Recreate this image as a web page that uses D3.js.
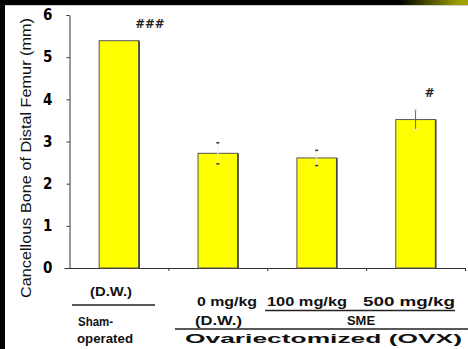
<!DOCTYPE html>
<html>
<head>
<meta charset="utf-8">
<script src="https://cdn.jsdelivr.net/npm/d3@7"></script>
<style>
  html, body { margin: 0; padding: 0; background: #fff; }
  svg { display: block; }
</style>
</head>
<body>
<svg id="chart" width="468" height="349"></svg>
<script>
// data
const groups = ["Sham (D.W.)", "OVX 0 mg/kg", "OVX SME 100", "OVX SME 500"];
const means = [5.39, 2.72, 2.61, 3.52];
const errors = [0, 0.25, 0.18, 0.235];
const marks = ["###", "", "", "#"];
const yTicks = [0, 1, 2, 3, 4, 5, 6];
const yTitle = "Cancellous Bone of Distal Femur (mm)";

// layout
const markShift = [31, 0, 0, 14];
const W = 468, H = 349;
const tickFont = "'Liberation Sans Narrow', 'DejaVu Sans Condensed', 'Liberation Sans', sans-serif";
const lblFont = "'Liberation Sans', Arial, sans-serif";

const svg = d3.select("#chart");

// frame: black strips on top and left, olive fade at top right
const defs = svg.append("defs");
const grad = defs.append("linearGradient").attr("id", "fade")
  .attr("x1", "0%").attr("x2", "100%");
grad.append("stop").attr("offset", "0%").attr("stop-color", "#000");
grad.append("stop").attr("offset", "85%").attr("stop-color", "#9c9c00");
grad.append("stop").attr("offset", "100%").attr("stop-color", "#a3a300");

svg.append("rect").attr("x", 0).attr("y", 0).attr("width", W).attr("height", 5).attr("fill", "#000");
svg.append("rect").attr("x", 400).attr("y", 0).attr("width", 68).attr("height", 5).attr("fill", "url(#fade)");
svg.append("rect").attr("x", 5).attr("y", 5).attr("width", W - 5).attr("height", 1).attr("fill", "#d0d0d0");
svg.append("rect").attr("x", 0).attr("y", 0).attr("width", 5).attr("height", H).attr("fill", "#000");

const x = d3.scaleBand()
  .domain(groups)
  .range([69.5, 465])
  .paddingInner(0.6)
  .paddingOuter(0.3);

const y = d3.scaleLinear()
  .domain([0, 6])
  .range([268, 15]);

// y axis
const yAxis = svg.append("g")
  .attr("transform", `translate(${x.range()[0]},0)`)
  .call(d3.axisLeft(y).tickValues(yTicks).tickFormat(d3.format("d"))
    .tickSize(3).tickSizeOuter(0).tickPadding(14));
yAxis.select(".domain").attr("stroke", "#333");
yAxis.selectAll(".tick line").attr("stroke", "#333");
yAxis.selectAll(".tick text")
  .attr("fill", "#000")
  .style("font-family", tickFont)
  .style("font-weight", "bold")
  .style("font-size", "15px");

// x axis: ticks on group boundaries
const xb = d3.scaleLinear().domain([0, groups.length]).range(x.range());
const xAxis = svg.append("g")
  .attr("transform", `translate(0,${y(0)})`)
  .call(d3.axisBottom(xb).tickValues(d3.range(1, groups.length + 1))
    .tickFormat("").tickSize(3).tickSizeOuter(0));
xAxis.select(".domain").attr("stroke", "#333").attr("d", `M${x.range()[0] - 5},0.5H${x.range()[1] + 1}`);
xAxis.selectAll(".tick line").attr("stroke", "#333");

// bars
svg.append("g")
  .selectAll("rect")
  .data(groups)
  .join("rect")
  .attr("x", d => x(d))
  .attr("y", (d, i) => y(means[i]))
  .attr("width", x.bandwidth())
  .attr("height", (d, i) => y(0) - y(means[i]))
  .attr("fill", "#ffff00")
  .attr("stroke", "#555")
  .attr("stroke-width", 1);

// darker right edge of each bar
svg.append("g")
  .selectAll("line")
  .data(groups)
  .join("line")
  .attr("x1", d => x(d) + x.bandwidth() + 0.5)
  .attr("x2", d => x(d) + x.bandwidth() + 0.5)
  .attr("y1", (d, i) => y(means[i]))
  .attr("y2", y(0))
  .attr("stroke", "#444")
  .attr("stroke-width", 1.5);

// error bars (only the lower stub shows inside the short bars)
const eb = svg.append("g");
groups.forEach((g, i) => {
  if (!errors[i]) return;
  const cx = x(g) + x.bandwidth() / 2;
  const lo = y(means[i] - errors[i]), hi = y(means[i] + errors[i]);
  eb.append("line")
    .attr("x1", cx).attr("x2", cx).attr("y1", hi).attr("y2", lo)
    .attr("stroke", i === 3 ? "#666" : "#f4f4d0").attr("stroke-width", 1);
  [lo, hi].forEach(v => {
    eb.append("line")
      .attr("x1", cx - 1.5).attr("x2", cx + 1.5).attr("y1", v).attr("y2", v)
      .attr("stroke", i === 3 ? "#ddd" : "#333").attr("stroke-width", 1.5);
  });
});

// significance marks
svg.append("g")
  .selectAll("text")
  .data(groups)
  .join("text")
  .attr("x", (d, i) => x(d) + x.bandwidth() / 2 + markShift[i])
  .attr("y", (d, i) => y(means[i] + errors[i]) - 13)
  .attr("text-anchor", "middle")
  .style("font-family", tickFont)
  .style("font-weight", "bold")
  .style("font-size", "13px")
  .attr("fill", "#222")
  .text((d, i) => marks[i]);

// y title
svg.append("text")
  .attr("transform", "translate(31,158) rotate(-90)")
  .attr("text-anchor", "middle")
  .attr("textLength", 280)
  .attr("lengthAdjust", "spacingAndGlyphs")
  .style("font-family", lblFont)
  .style("font-size", "14.5px")
  .attr("fill", "#111")
  .text(yTitle);

// group labels under the axis
const labels = [
  { t: "(D.W.)", x: 90, y: 296, w: 42 },
  { t: "Sham-", x: 78, y: 326, w: 35 },
  { t: "operated", x: 77, y: 343, w: 56 },
  { t: "0 mg/kg", x: 197, y: 306, w: 60 },
  { t: "100 mg/kg", x: 267, y: 306, w: 80 },
  { t: "500 mg/kg", x: 363, y: 306, w: 92 },
  { t: "(D.W.)", x: 195, y: 325, w: 47 },
  { t: "SME", x: 347, y: 325, w: 28, bold: true },
  { t: "Ovariectomized (OVX)", x: 185, y: 343, w: 277 }
];
svg.append("g")
  .selectAll("text")
  .data(labels)
  .join("text")
  .attr("x", d => d.x)
  .attr("y", d => d.y)
  .attr("textLength", d => d.w)
  .attr("lengthAdjust", "spacingAndGlyphs")
  .style("font-family", lblFont)
  .style("font-weight", "bold")
  .style("font-size", d => d.bold ? "13px" : "13.5px")
  .attr("fill", "#111")
  .text(d => d.t);

const rules = [
  [72, 155, 305],
  [265, 455, 310.5],
  [175, 468, 329]
];
svg.append("g")
  .selectAll("line")
  .data(rules)
  .join("line")
  .attr("x1", d => d[0]).attr("x2", d => d[1])
  .attr("y1", d => d[2]).attr("y2", d => d[2])
  .attr("stroke", "#222")
  .attr("stroke-width", 1.5);
</script>
</body>
</html>
